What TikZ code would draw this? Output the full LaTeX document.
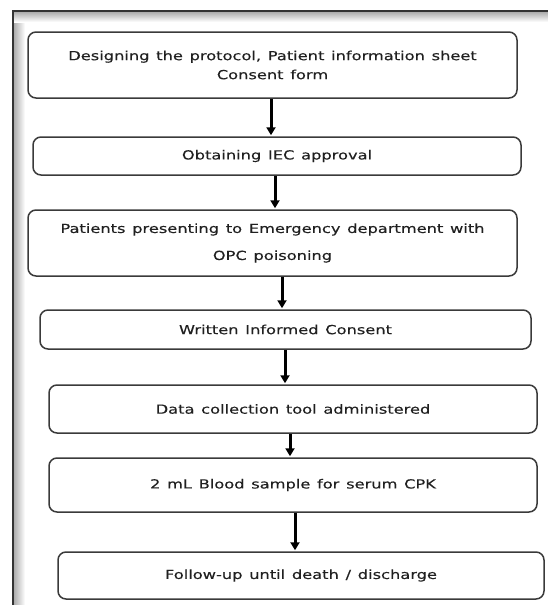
\documentclass[tikz,border=0pt]{standalone}
\usepackage{fontspec}
\setmainfont[FakeStretch=1.3, WordSpace=1.3, FakeBold=0.3]{DejaVu Sans}
\usepackage{tikz}
\usetikzlibrary{arrows.meta}

\definecolor{boxline}{HTML}{3A3A3A}
\definecolor{boxtext}{HTML}{202020}

\tikzset{
  stepbox/.style={draw=boxline, line width=1.5pt, rounded corners=8pt,
    text=boxtext, align=center, inner sep=0pt,
    font=\fontsize{12.5}{15}\selectfont},
  flowarr/.style={line width=3pt, black,
    -{Triangle[width=9pt,length=8pt]}, shorten >=1pt}
}

\begin{document}
\begin{tikzpicture}[x=1pt, y=-1pt]
\useasboundingbox (0,0) rectangle (548,605);

% outer frame with its inner shadow
\shade[left color=black!35, right color=white] (13,11) rectangle (25,605);
\shade[top color=black!35, bottom color=white] (13,11) rectangle (548,22);
\draw[line width=1.5pt, black!80] (548,11) -- (13,11) -- (13,605);

\node[stepbox, minimum width=489, minimum height=66] (design) at (272.5,65)
  {Designing the protocol, Patient information sheet\\[4pt] Consent form};
\node[stepbox, minimum width=488, minimum height=38] (iec) at (277,156)
  {Obtaining IEC approval};
\node[stepbox, minimum width=489, minimum height=66] (patients) at (272.5,243)
  {Patients presenting to Emergency department with\\[12pt] OPC poisoning};
\node[stepbox, minimum width=491, minimum height=39] (consent) at (285.5,329.5)
  {Written Informed Consent};
\node[stepbox, minimum width=488, minimum height=48] (tool) at (293,409)
  {Data collection tool administered};
\node[stepbox, minimum width=488, minimum height=54] (blood) at (293,485)
  {2 mL Blood sample for serum CPK};
\node[stepbox, minimum width=486, minimum height=47] (follow) at (301,575.5)
  {Follow-up until death / discharge};

\draw[flowarr] ([xshift=-1.5pt]design.south) -- ([xshift=-1.5pt]design.south |- iec.north);
\draw[flowarr] ([xshift=-2pt]iec.south) -- ([xshift=-2pt]iec.south |- patients.north);
\draw[flowarr] ([xshift=9.5pt]patients.south) -- ([xshift=9.5pt]patients.south |- consent.north);
\draw[flowarr] ([xshift=-0.5pt]consent.south) -- ([xshift=-0.5pt]consent.south |- tool.north);
\draw[flowarr] ([xshift=-3pt]tool.south) -- ([xshift=-3pt]tool.south |- blood.north);
\draw[flowarr] ([xshift=2pt]blood.south) -- ([xshift=2pt]blood.south |- follow.north);
\end{tikzpicture}
\end{document}
